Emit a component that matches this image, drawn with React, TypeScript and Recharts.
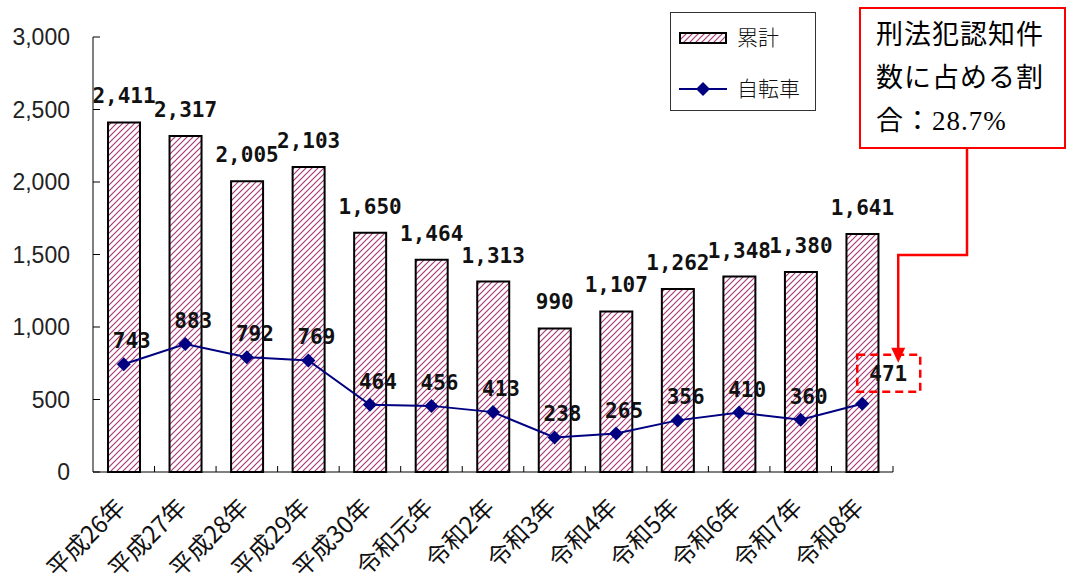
import { ComposedChart, Bar, Line, XAxis, YAxis, LabelList } from "recharts";

const years = [
  "平成26年", "平成27年", "平成28年", "平成29年", "平成30年", "令和元年",
  "令和2年", "令和3年", "令和4年", "令和5年", "令和6年", "令和7年", "令和8年",
];
const totals = [2411, 2317, 2005, 2103, 1650, 1464, 1313, 990, 1107, 1262, 1348, 1380, 1641];
const bicycles = [743, 883, 792, 769, 464, 456, 413, 238, 265, 356, 410, 360, 471];
const yTicks = [0, 500, 1000, 1500, 2000, 2500, 3000];

const data = years.map((name, i) => ({ name, total: totals[i], bike: bicycles[i] }));

const W = 1073;
const H = 576;
const PLOT_LEFT = 93;
const PLOT_RIGHT = 893;
const PLOT_TOP = 37;
const PLOT_BOTTOM = 472;
const BAND = (PLOT_RIGHT - PLOT_LEFT) / years.length;
const NAVY = "#000080";
const RED = "#ff0000";
const numFont = "'DejaVu Sans Mono', monospace";
const jpFont = "'Noto Sans CJK JP', sans-serif";

const fmt = (v: number) => v.toLocaleString("en-US");

const YTick = (props: any) => {
  const { x, y, payload } = props;
  return (
    <g>
      <line x1={PLOT_LEFT} x2={PLOT_LEFT + 7} y1={y} y2={y} stroke="#000" />
      <text x={x - 21} y={y} dy={8} textAnchor="end" fontFamily="'Liberation Sans', Arial, sans-serif" fontSize={23} fill="#222">
        {fmt(payload.value)}
      </text>
    </g>
  );
};

const XTick = (props: any) => {
  const { x, payload } = props;
  return (
    <g>
      <line x1={x + BAND / 2} x2={x + BAND / 2} y1={PLOT_BOTTOM} y2={PLOT_BOTTOM - 6} stroke="#000" />
      <text
        transform={`translate(${x + 3},${PLOT_BOTTOM + 37}) rotate(-45)`}
        textAnchor="end"
        fontFamily={jpFont}
        fontSize={24}
        fill="#111"
      >
        {payload.value}
      </text>
    </g>
  );
};

const BarLabel = (props: any) => {
  const { x, y, width, value } = props;
  return (
    <text x={x + width / 2} y={y - 19} textAnchor="middle" fontFamily={numFont} fontWeight="bold" fontSize={21} fill="#111">
      {fmt(value)}
    </text>
  );
};

const LineLabel = (props: any) => {
  const { x, y, value, index } = props;
  if (index === years.length - 1) {
    const cx = x + 26;
    const cy = y - 31;
    const ax = cx + 10;
    return (
      <g>
        <text x={cx} y={cy + 8} textAnchor="middle" fontFamily={numFont} fontWeight="bold" fontSize={21} fill="#111">
          {fmt(value)}
        </text>
        <rect x={cx - 31} y={cy - 18} width={63} height={37} fill="none" stroke={RED} strokeWidth={2.5} strokeDasharray="8 5" />
        <path d={`M967,148 L967,255 L${ax},255 L${ax},${cy - 22}`} fill="none" stroke={RED} strokeWidth={2.5} />
        <path d={`M${ax - 7},${cy - 25} L${ax + 7},${cy - 25} L${ax},${cy - 10} Z`} fill={RED} />
      </g>
    );
  }
  return (
    <text x={x + 8} y={y - 16} textAnchor="middle" fontFamily={numFont} fontWeight="bold" fontSize={21} fill="#111">
      {fmt(value)}
    </text>
  );
};

const Diamond = (props: any) => {
  const { cx, cy } = props;
  return <path d={`M${cx},${cy - 7} L${cx + 7},${cy} L${cx},${cy + 7} L${cx - 7},${cy} Z`} fill={NAVY} />;
};

export default function App() {
  return (
    <div style={{ position: "absolute", left: 0, top: 0, width: W, height: H, background: "#fff" }}>
      <svg width={0} height={0} style={{ position: "absolute" }}>
        <defs>
          <pattern id="hatch" patternUnits="userSpaceOnUse" width={6} height={6}>
            <rect width={6} height={6} fill="#fff" />
            <path d="M-1,1 L1,-1 M0,6 L6,0 M5,7 L7,5" stroke="#a83a78" strokeWidth={1.2} />
          </pattern>
        </defs>
      </svg>
      <ComposedChart
        width={W}
        height={H}
        data={data}
        margin={{ top: PLOT_TOP, right: W - PLOT_RIGHT, bottom: 0, left: 0 }}
      >
        <XAxis
          dataKey="name"
          interval={0}
          height={H - PLOT_BOTTOM}
          tickSize={0}
          tickLine={false}
          tick={<XTick />}
          axisLine={{ stroke: "#000" }}
        />
        <YAxis
          width={PLOT_LEFT}
          domain={[0, 3000]}
          ticks={yTicks}
          tickSize={0}
          tickLine={false}
          tick={<YTick />}
          axisLine={{ stroke: "#000" }}
        />
        <Bar dataKey="total" barSize={32} fill="url(#hatch)" stroke="#000" strokeWidth={2} isAnimationActive={false}>
          <LabelList dataKey="total" content={<BarLabel />} />
        </Bar>
        <Line
          dataKey="bike"
          stroke={NAVY}
          strokeWidth={2}
          dot={<Diamond />}
          activeDot={false}
          isAnimationActive={false}
        >
          <LabelList dataKey="bike" content={<LineLabel />} />
        </Line>
      </ComposedChart>

      <svg width={W} height={H} style={{ position: "absolute", left: 0, top: 0, pointerEvents: "none" }}>
        <rect x={670.5} y={12.5} width={145} height={98} fill="#fff" stroke="#333" strokeWidth={1} />
        <rect x={680} y={33} width={46} height={10} fill="url(#hatch)" stroke="#000" strokeWidth={2} />
        <text x={737} y={45} fontFamily={jpFont} fontSize={21} fontWeight={300} fill="#111">累計</text>
        <line x1={679} x2={727} y1={89} y2={89} stroke={NAVY} strokeWidth={2} />
        <path d="M703,82 L710,89 L703,96 L696,89 Z" fill={NAVY} />
        <text x={737} y={96} fontFamily={jpFont} fontSize={21} fontWeight={300} fill="#111">自転車</text>
        <rect x={860} y={8} width={205} height={140} fill="#fff" stroke={RED} strokeWidth={2} />
      </svg>
      <div
        style={{
          position: "absolute",
          left: 876,
          top: 14,
          width: 185,
          fontFamily: "'Liberation Serif', 'Noto Sans CJK JP', serif",
          fontSize: 27,
          lineHeight: "43px",
          letterSpacing: 1,
          color: "#000",
        }}
      >
        <div>刑法犯認知件</div>
        <div>数に占める割</div>
        <div>合：28.7%</div>
      </div>
    </div>
  );
}
